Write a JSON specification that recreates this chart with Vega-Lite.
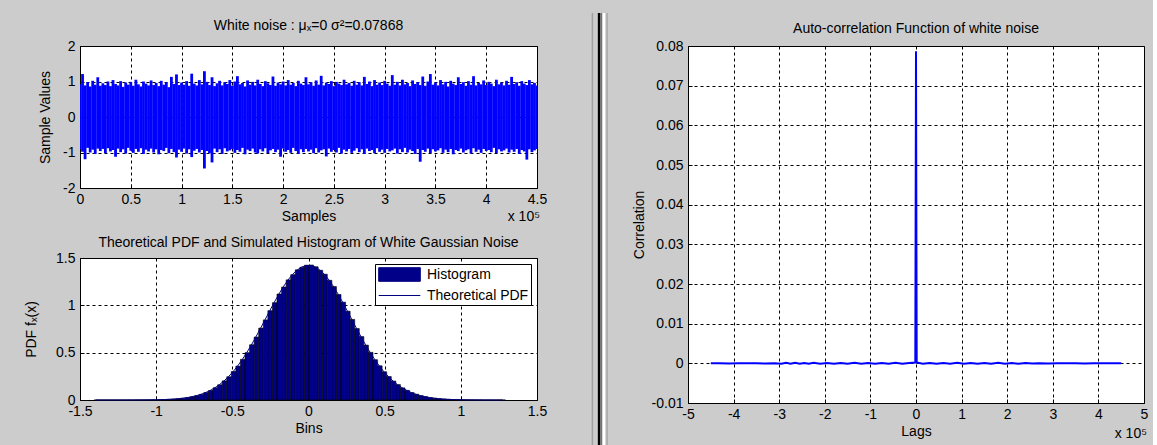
{
  "$schema": "https://vega.github.io/schema/vega-lite/v6.json",
  "background": "#CCCCCC",
  "padding": {"left": 24, "top": 11, "right": 4, "bottom": 0},
  "spacing": 19.5,
  "align": "none",
  "resolve": {"scale": {"color": "independent", "shape": "independent"}, "legend": {"color": "independent", "shape": "independent"}},
  "config": {
    "view": {"fill": "white", "stroke": "black", "strokeWidth": 1},
    "font": "Liberation Sans",
    "title": {"font": "Liberation Sans", "fontSize": 14, "fontWeight": "normal", "color": "#000", "anchor": "middle"},
    "axis": {"labelFont": "Liberation Sans", "labelFontSize": 14, "labelColor": "#000", "titleFont": "Liberation Sans", "titleFontSize": 14, "titleFontWeight": "normal", "titleColor": "#000", "domain": false, "grid": true, "gridColor": "#000", "gridDash": [3, 3], "gridOpacity": 1, "gridWidth": 1, "ticks": true, "tickColor": "#000", "tickSize": -4, "labelPadding": 8, "titlePadding": 3, "labelFlush": false, "labelOverlap": false},
    "axisY": {"labelPadding": 9},
    "text": {"font": "Liberation Sans", "fontSize": 14, "color": "#000"},
    "legend": {"labelFont": "Liberation Sans", "labelFontSize": 14, "labelColor": "#000"}
  },
  "datasets": {
    "noise": [
      {"s":0,"hi":0.92,"lo":-0.91},{"s":2500,"hi":1.21,"lo":-0.98},{"s":5000,"hi":0.89,"lo":-1.19},{"s":7500,"hi":0.98,"lo":-0.87},{"s":10000,"hi":0.86,"lo":-1.0},{"s":12500,"hi":1.02,"lo":-0.92},{"s":15000,"hi":0.91,"lo":-1.04},{"s":17500,"hi":1.12,"lo":-0.89},{"s":20000,"hi":0.88,"lo":-0.96},{"s":22500,"hi":0.95,"lo":-0.9},
      {"s":25000,"hi":0.9,"lo":-1.02},{"s":27500,"hi":1.0,"lo":-0.88},{"s":30000,"hi":0.87,"lo":-0.97},{"s":32500,"hi":1.04,"lo":-0.93},{"s":35000,"hi":0.93,"lo":-1.12},{"s":37500,"hi":0.89,"lo":-0.89},{"s":40000,"hi":1.01,"lo":-0.99},{"s":42500,"hi":0.85,"lo":-0.91},{"s":45000,"hi":0.97,"lo":-1.03},{"s":47500,"hi":0.91,"lo":-0.87},
      {"s":50000,"hi":0.99,"lo":-0.95},{"s":52500,"hi":0.88,"lo":-1.01},{"s":55000,"hi":1.05,"lo":-0.9},{"s":57500,"hi":0.92,"lo":-0.98},{"s":60000,"hi":0.86,"lo":-0.88},{"s":62500,"hi":1.0,"lo":-1.04},{"s":65000,"hi":0.94,"lo":-0.92},{"s":67500,"hi":0.89,"lo":-0.97},{"s":70000,"hi":1.03,"lo":-0.89},{"s":72500,"hi":0.9,"lo":-1.0},
      {"s":75000,"hi":0.96,"lo":-0.91},{"s":77500,"hi":0.87,"lo":-1.05},{"s":80000,"hi":1.02,"lo":-0.93},{"s":82500,"hi":0.91,"lo":-0.96},{"s":85000,"hi":0.98,"lo":-0.87},{"s":87500,"hi":0.84,"lo":-1.02},{"s":90000,"hi":1.13,"lo":-0.9},{"s":92500,"hi":0.93,"lo":-0.99},{"s":95000,"hi":1.2,"lo":-1.14},{"s":97500,"hi":0.9,"lo":-0.92},
      {"s":100000,"hi":0.97,"lo":-0.98},{"s":102500,"hi":0.91,"lo":-0.89},{"s":105000,"hi":1.01,"lo":-1.03},{"s":107500,"hi":0.88,"lo":-0.91},{"s":110000,"hi":1.22,"lo":-1.13},{"s":112500,"hi":0.94,"lo":-0.95},{"s":115000,"hi":0.89,"lo":-0.9},{"s":117500,"hi":1.04,"lo":-1.0},{"s":120000,"hi":0.92,"lo":-0.93},{"s":122500,"hi":1.29,"lo":-1.45},
      {"s":125000,"hi":0.99,"lo":-0.96},{"s":127500,"hi":0.9,"lo":-1.02},{"s":130000,"hi":1.12,"lo":-1.28},{"s":132500,"hi":0.87,"lo":-0.89},{"s":135000,"hi":0.95,"lo":-0.99},{"s":137500,"hi":1.02,"lo":-0.91},{"s":140000,"hi":0.89,"lo":-1.04},{"s":142500,"hi":0.98,"lo":-0.88},{"s":145000,"hi":0.93,"lo":-0.97},{"s":147500,"hi":1.04,"lo":-0.94},
      {"s":150000,"hi":0.88,"lo":-0.9},{"s":152500,"hi":1.0,"lo":-1.01},{"s":155000,"hi":1.15,"lo":-0.93},{"s":157500,"hi":0.92,"lo":-0.98},{"s":160000,"hi":0.96,"lo":-0.87},{"s":162500,"hi":0.86,"lo":-1.05},{"s":165000,"hi":1.03,"lo":-0.92},{"s":167500,"hi":0.91,"lo":-0.96},{"s":170000,"hi":0.99,"lo":-0.89},{"s":172500,"hi":0.89,"lo":-1.0},
      {"s":175000,"hi":1.05,"lo":-1.03},{"s":177500,"hi":0.93,"lo":-0.91},{"s":180000,"hi":0.87,"lo":-0.97},{"s":182500,"hi":1.01,"lo":-0.88},{"s":185000,"hi":0.95,"lo":-1.02},{"s":187500,"hi":0.9,"lo":-0.94},{"s":190000,"hi":1.14,"lo":-0.9},{"s":192500,"hi":0.88,"lo":-0.99},{"s":195000,"hi":0.97,"lo":-0.92},{"s":197500,"hi":0.92,"lo":-1.12},
      {"s":200000,"hi":1.0,"lo":-0.89},{"s":202500,"hi":0.89,"lo":-0.98},{"s":205000,"hi":1.04,"lo":-0.93},{"s":207500,"hi":0.91,"lo":-1.01},{"s":210000,"hi":0.96,"lo":-0.87},{"s":212500,"hi":0.87,"lo":-0.96},{"s":215000,"hi":1.02,"lo":-1.04},{"s":217500,"hi":0.94,"lo":-0.91},{"s":220000,"hi":0.9,"lo":-0.99},{"s":222500,"hi":1.12,"lo":-0.9},
      {"s":225000,"hi":0.92,"lo":-0.97},{"s":227500,"hi":0.98,"lo":-0.92},{"s":230000,"hi":0.88,"lo":-1.02},{"s":232500,"hi":1.03,"lo":-0.88},{"s":235000,"hi":0.91,"lo":-1.0},{"s":237500,"hi":1.16,"lo":-0.94},{"s":240000,"hi":0.89,"lo":-0.91},{"s":242500,"hi":0.97,"lo":-1.11},{"s":245000,"hi":0.93,"lo":-0.89},{"s":247500,"hi":1.01,"lo":-0.98},
      {"s":250000,"hi":0.87,"lo":-0.93},{"s":252500,"hi":0.99,"lo":-1.0},{"s":255000,"hi":0.94,"lo":-0.87},{"s":257500,"hi":0.9,"lo":-1.03},{"s":260000,"hi":1.05,"lo":-0.92},{"s":262500,"hi":0.92,"lo":-0.97},{"s":265000,"hi":0.96,"lo":-0.9},{"s":267500,"hi":0.88,"lo":-1.01},{"s":270000,"hi":1.02,"lo":-0.95},{"s":272500,"hi":0.91,"lo":-0.88},
      {"s":275000,"hi":0.98,"lo":-0.99},{"s":277500,"hi":0.89,"lo":-0.91},{"s":280000,"hi":1.13,"lo":-1.04},{"s":282500,"hi":0.93,"lo":-0.89},{"s":285000,"hi":1.0,"lo":-0.96},{"s":287500,"hi":0.87,"lo":-0.93},{"s":290000,"hi":1.04,"lo":-1.02},{"s":292500,"hi":0.91,"lo":-0.88},{"s":295000,"hi":0.97,"lo":-0.98},{"s":297500,"hi":0.9,"lo":-0.92},
      {"s":300000,"hi":1.02,"lo":-1.01},{"s":302500,"hi":0.94,"lo":-0.9},{"s":305000,"hi":0.88,"lo":-0.97},{"s":307500,"hi":1.18,"lo":-0.94},{"s":310000,"hi":0.91,"lo":-0.89},{"s":312500,"hi":0.99,"lo":-1.03},{"s":315000,"hi":0.89,"lo":-0.91},{"s":317500,"hi":1.05,"lo":-0.99},{"s":320000,"hi":0.92,"lo":-0.87},{"s":322500,"hi":0.96,"lo":-1.0},
      {"s":325000,"hi":0.87,"lo":-0.92},{"s":327500,"hi":1.03,"lo":-0.96},{"s":330000,"hi":0.93,"lo":-1.04},{"s":332500,"hi":0.98,"lo":-0.9},{"s":335000,"hi":0.9,"lo":-1.26},{"s":337500,"hi":1.14,"lo":-0.93},{"s":340000,"hi":0.88,"lo":-0.98},{"s":342500,"hi":1.0,"lo":-0.89},{"s":345000,"hi":1.21,"lo":-1.02},{"s":347500,"hi":0.91,"lo":-0.91},
      {"s":350000,"hi":0.97,"lo":-0.97},{"s":352500,"hi":0.89,"lo":-0.94},{"s":355000,"hi":1.04,"lo":-0.88},{"s":357500,"hi":0.92,"lo":-1.01},{"s":360000,"hi":0.99,"lo":-0.92},{"s":362500,"hi":0.86,"lo":-0.99},{"s":365000,"hi":1.02,"lo":-0.9},{"s":367500,"hi":0.94,"lo":-1.05},{"s":370000,"hi":0.9,"lo":-0.93},{"s":372500,"hi":1.12,"lo":-0.96},
      {"s":375000,"hi":0.93,"lo":-0.89},{"s":377500,"hi":0.98,"lo":-1.0},{"s":380000,"hi":0.88,"lo":-0.94},{"s":382500,"hi":1.01,"lo":-0.91},{"s":385000,"hi":0.91,"lo":-1.03},{"s":387500,"hi":1.15,"lo":-0.88},{"s":390000,"hi":0.89,"lo":-0.98},{"s":392500,"hi":0.96,"lo":-0.92},{"s":395000,"hi":0.92,"lo":-1.01},{"s":397500,"hi":1.03,"lo":-0.9},
      {"s":400000,"hi":0.9,"lo":-0.96},{"s":402500,"hi":0.99,"lo":-0.93},{"s":405000,"hi":0.94,"lo":-0.99},{"s":407500,"hi":0.87,"lo":-0.87},{"s":410000,"hi":1.05,"lo":-1.02},{"s":412500,"hi":0.92,"lo":-0.91},{"s":415000,"hi":0.97,"lo":-0.97},{"s":417500,"hi":0.89,"lo":-0.94},{"s":420000,"hi":1.02,"lo":-0.89},{"s":422500,"hi":0.91,"lo":-1.0},
      {"s":425000,"hi":1.13,"lo":-0.92},{"s":427500,"hi":0.93,"lo":-0.98},{"s":430000,"hi":0.98,"lo":-0.9},{"s":432500,"hi":0.88,"lo":-1.04},{"s":435000,"hi":1.01,"lo":-0.93},{"s":437500,"hi":0.94,"lo":-0.97},{"s":440000,"hi":0.9,"lo":-1.2},{"s":442500,"hi":1.04,"lo":-0.91},{"s":445000,"hi":0.92,"lo":-0.99},{"s":447500,"hi":0.96,"lo":-0.94},
      {"s":450000,"hi":0.89,"lo":-0.9}
    ],
    "hist": [
      {"b0":-1.41,"b1":-1.38,"c":-1.395,"h":0.0001,"p":0.0},{"b0":-1.38,"b1":-1.35,"c":-1.365,"h":0.0,"p":0.0},{"b0":-1.35,"b1":-1.32,"c":-1.335,"h":0.0,"p":0.0},{"b0":-1.32,"b1":-1.29,"c":-1.305,"h":0.0001,"p":0.0},{"b0":-1.29,"b1":-1.26,"c":-1.275,"h":0.0,"p":0.0},
      {"b0":-1.26,"b1":-1.23,"c":-1.245,"h":0.0001,"p":0.0001},{"b0":-1.23,"b1":-1.2,"c":-1.215,"h":0.0002,"p":0.0001},{"b0":-1.2,"b1":-1.17,"c":-1.185,"h":0.0002,"p":0.0002},{"b0":-1.17,"b1":-1.14,"c":-1.155,"h":0.0003,"p":0.0003},{"b0":-1.14,"b1":-1.11,"c":-1.125,"h":0.0005,"p":0.0005},
      {"b0":-1.11,"b1":-1.08,"c":-1.095,"h":0.0008,"p":0.0007},{"b0":-1.08,"b1":-1.05,"c":-1.065,"h":0.001,"p":0.0011},{"b0":-1.05,"b1":-1.02,"c":-1.035,"h":0.0017,"p":0.0016},{"b0":-1.02,"b1":-0.99,"c":-1.005,"h":0.0022,"p":0.0023},{"b0":-0.99,"b1":-0.96,"c":-0.975,"h":0.0035,"p":0.0034},
      {"b0":-0.96,"b1":-0.93,"c":-0.945,"h":0.0047,"p":0.0049},{"b0":-0.93,"b1":-0.9,"c":-0.915,"h":0.0072,"p":0.007},{"b0":-0.9,"b1":-0.87,"c":-0.885,"h":0.0096,"p":0.0098},{"b0":-0.87,"b1":-0.84,"c":-0.855,"h":0.014,"p":0.0137},{"b0":-0.84,"b1":-0.81,"c":-0.825,"h":0.0185,"p":0.0188},
      {"b0":-0.81,"b1":-0.78,"c":-0.795,"h":0.026,"p":0.0256},{"b0":-0.78,"b1":-0.75,"c":-0.765,"h":0.0341,"p":0.0345},{"b0":-0.75,"b1":-0.72,"c":-0.735,"h":0.0465,"p":0.0459},{"b0":-0.72,"b1":-0.69,"c":-0.705,"h":0.0598,"p":0.0604},{"b0":-0.69,"b1":-0.66,"c":-0.675,"h":0.0793,"p":0.0786},
      {"b0":-0.66,"b1":-0.63,"c":-0.645,"h":0.1004,"p":0.1011},{"b0":-0.63,"b1":-0.6,"c":-0.615,"h":0.1295,"p":0.1286},{"b0":-0.6,"b1":-0.57,"c":-0.585,"h":0.1608,"p":0.1616},{"b0":-0.57,"b1":-0.54,"c":-0.555,"h":0.2021,"p":0.2008},{"b0":-0.54,"b1":-0.51,"c":-0.525,"h":0.2455,"p":0.2468},
      {"b0":-0.51,"b1":-0.48,"c":-0.495,"h":0.3012,"p":0.2997},{"b0":-0.48,"b1":-0.45,"c":-0.465,"h":0.3583,"p":0.3599},{"b0":-0.45,"b1":-0.42,"c":-0.435,"h":0.429,"p":0.4273},{"b0":-0.42,"b1":-0.39,"c":-0.405,"h":0.4998,"p":0.5015},{"b0":-0.39,"b1":-0.36,"c":-0.375,"h":0.5836,"p":0.5819},
      {"b0":-0.36,"b1":-0.33,"c":-0.345,"h":0.6652,"p":0.6675},{"b0":-0.33,"b1":-0.3,"c":-0.315,"h":0.7594,"p":0.757},{"b0":-0.3,"b1":-0.27,"c":-0.285,"h":0.8461,"p":0.8488},{"b0":-0.27,"b1":-0.24,"c":-0.255,"h":0.9437,"p":0.9408},{"b0":-0.24,"b1":-0.21,"c":-0.225,"h":1.0283,"p":1.031},
      {"b0":-0.21,"b1":-0.18,"c":-0.195,"h":1.1196,"p":1.1169},{"b0":-0.18,"b1":-0.15,"c":-0.165,"h":1.1938,"p":1.1963},{"b0":-0.15,"b1":-0.12,"c":-0.135,"h":1.269,"p":1.2667},{"b0":-0.12,"b1":-0.09,"c":-0.105,"h":1.3241,"p":1.326},{"b0":-0.09,"b1":-0.06,"c":-0.075,"h":1.375,"p":1.3723},
      {"b0":-0.06,"b1":-0.03,"c":-0.045,"h":1.4018,"p":1.404},{"b0":-0.03,"b1":0.0,"c":-0.015,"h":1.4236,"p":1.4202},{"b0":0.0,"b1":0.03,"c":0.015,"h":1.4251,"p":1.4202},{"b0":0.03,"b1":0.06,"c":0.045,"h":1.4067,"p":1.404},{"b0":0.06,"b1":0.09,"c":0.075,"h":1.3702,"p":1.3723},
      {"b0":0.09,"b1":0.12,"c":0.105,"h":1.3288,"p":1.326},{"b0":0.12,"b1":0.15,"c":0.135,"h":1.2643,"p":1.2667},{"b0":0.15,"b1":0.18,"c":0.165,"h":1.1985,"p":1.1963},{"b0":0.18,"b1":0.21,"c":0.195,"h":1.1142,"p":1.1169},{"b0":0.21,"b1":0.24,"c":0.225,"h":1.0336,"p":1.031},
      {"b0":0.24,"b1":0.27,"c":0.255,"h":0.9381,"p":0.9408},{"b0":0.27,"b1":0.3,"c":0.285,"h":0.8512,"p":0.8488},{"b0":0.3,"b1":0.33,"c":0.315,"h":0.7549,"p":0.757},{"b0":0.33,"b1":0.36,"c":0.345,"h":0.6698,"p":0.6675},{"b0":0.36,"b1":0.39,"c":0.375,"h":0.5797,"p":0.5819},
      {"b0":0.39,"b1":0.42,"c":0.405,"h":0.5033,"p":0.5015},{"b0":0.42,"b1":0.45,"c":0.435,"h":0.4256,"p":0.4273},{"b0":0.45,"b1":0.48,"c":0.465,"h":0.3614,"p":0.3599},{"b0":0.48,"b1":0.51,"c":0.495,"h":0.2982,"p":0.2997},{"b0":0.51,"b1":0.54,"c":0.525,"h":0.2479,"p":0.2468},
      {"b0":0.54,"b1":0.57,"c":0.555,"h":0.1996,"p":0.2008},{"b0":0.57,"b1":0.6,"c":0.585,"h":0.1627,"p":0.1616},{"b0":0.6,"b1":0.63,"c":0.615,"h":0.1279,"p":0.1286},{"b0":0.63,"b1":0.66,"c":0.645,"h":0.1018,"p":0.1011},{"b0":0.66,"b1":0.69,"c":0.675,"h":0.078,"p":0.0786},
      {"b0":0.69,"b1":0.72,"c":0.705,"h":0.0609,"p":0.0604},{"b0":0.72,"b1":0.75,"c":0.735,"h":0.0455,"p":0.0459},{"b0":0.75,"b1":0.78,"c":0.765,"h":0.0349,"p":0.0345},{"b0":0.78,"b1":0.81,"c":0.795,"h":0.0253,"p":0.0256},{"b0":0.81,"b1":0.84,"c":0.825,"h":0.0191,"p":0.0188},
      {"b0":0.84,"b1":0.87,"c":0.855,"h":0.0135,"p":0.0137},{"b0":0.87,"b1":0.9,"c":0.885,"h":0.01,"p":0.0098},{"b0":0.9,"b1":0.93,"c":0.915,"h":0.0068,"p":0.007},{"b0":0.93,"b1":0.96,"c":0.945,"h":0.005,"p":0.0049},{"b0":0.96,"b1":0.99,"c":0.975,"h":0.0033,"p":0.0034},
      {"b0":0.99,"b1":1.02,"c":1.005,"h":0.0024,"p":0.0023},{"b0":1.02,"b1":1.05,"c":1.035,"h":0.0015,"p":0.0016},{"b0":1.05,"b1":1.08,"c":1.065,"h":0.0011,"p":0.0011},{"b0":1.08,"b1":1.11,"c":1.095,"h":0.0007,"p":0.0007},{"b0":1.11,"b1":1.14,"c":1.125,"h":0.0004,"p":0.0005},
      {"b0":1.14,"b1":1.17,"c":1.155,"h":0.0003,"p":0.0003},{"b0":1.17,"b1":1.2,"c":1.185,"h":0.0002,"p":0.0002},{"b0":1.2,"b1":1.23,"c":1.215,"h":0.0001,"p":0.0001},{"b0":1.23,"b1":1.26,"c":1.245,"h":0.0,"p":0.0001},{"b0":1.26,"b1":1.29,"c":1.275,"h":0.0001,"p":0.0}
    ],
    "acf": [
      {"lag":-449999,"r":0.0},{"lag":-430000,"r":0.00005},{"lag":-410000,"r":-0.00005},{"lag":-390000,"r":0.00005},{"lag":-370000,"r":0.0},{"lag":-350000,"r":0.00005},{"lag":-330000,"r":-0.00005},{"lag":-310000,"r":0.00005},
      {"lag":-295000,"r":-0.0001},{"lag":-285000,"r":0.00012},{"lag":-275000,"r":-0.0001},{"lag":-265000,"r":0.00012},{"lag":-255000,"r":-0.00012},{"lag":-245000,"r":0.0001},{"lag":-235000,"r":-0.0001},{"lag":-225000,"r":0.00012},
      {"lag":-210000,"r":-0.0001},{"lag":-195000,"r":0.0001},{"lag":-180000,"r":-0.00012},{"lag":-165000,"r":0.0001},{"lag":-150000,"r":-0.0001},{"lag":-135000,"r":0.00012},{"lag":-120000,"r":-0.0001},{"lag":-105000,"r":0.0001},
      {"lag":-90000,"r":-0.00012},{"lag":-75000,"r":0.0001},{"lag":-60000,"r":-0.0001},{"lag":-45000,"r":0.00012},{"lag":-30000,"r":-0.0001},{"lag":-15000,"r":0.0001},{"lag":-1500,"r":0.0002},{"lag":0,"r":0.0787},
      {"lag":1500,"r":0.0002},{"lag":15000,"r":-0.0001},{"lag":30000,"r":0.0001},{"lag":45000,"r":-0.00012},{"lag":60000,"r":0.0001},{"lag":75000,"r":-0.0001},{"lag":90000,"r":0.00012},{"lag":105000,"r":-0.0001},
      {"lag":120000,"r":0.0001},{"lag":135000,"r":-0.00012},{"lag":150000,"r":0.0001},{"lag":165000,"r":-0.0001},{"lag":180000,"r":0.00012},{"lag":195000,"r":-0.0001},{"lag":210000,"r":0.0001},{"lag":225000,"r":-0.00012},
      {"lag":240000,"r":0.0001},{"lag":255000,"r":-0.00005},{"lag":270000,"r":0.00005},{"lag":290000,"r":-0.00005},{"lag":310000,"r":0.00005},{"lag":330000,"r":0.0},{"lag":350000,"r":0.00005},{"lag":370000,"r":-0.00005},
      {"lag":390000,"r":0.00005},{"lag":410000,"r":0.0},{"lag":430000,"r":0.00005},{"lag":449999,"r":0.0}
    ]
  },
  "hconcat": [
    {
      "spacing": 10,
      "resolve": {"scale": {"color": "independent", "shape": "independent"}, "legend": {"color": "independent", "shape": "independent"}},
      "vconcat": [
        {
          "width": 457,
          "height": 142,
          "title": {"text": "White noise : μₓ=0 σ²=0.07868", "offset": 6},
          "layer": [
            {
              "data": {"name": "noise"},
              "mark": {"type": "rule", "color": "#0000FF", "strokeWidth": 2.8, "clip": true},
              "encoding": {
                "x": {"field": "s", "type": "quantitative", "scale": {"domain": [0, 450000], "nice": false}, "axis": {"title": "Samples", "values": [0, 50000, 100000, 150000, 200000, 250000, 300000, 350000, 400000, 450000], "labelExpr": "'' + datum.value / 100000", "labelOverlap": false}},
                "y": {"field": "lo", "type": "quantitative", "scale": {"domain": [-2, 2], "nice": false}, "axis": {"title": "Sample Values", "values": [-2, -1, 0, 1, 2], "labelExpr": "'' + datum.value", "titlePadding": 10, "labelOverlap": false}},
                "y2": {"field": "hi"}
              }
            },
            {
              "data": {"values": [{"label": "x 10⁵"}]},
              "mark": {"type": "text", "align": "right", "baseline": "top", "dy": 22, "dx": 3},
              "encoding": {
                "x": {"datum": 450000, "type": "quantitative", "axis": {"title": "Samples", "values": [0, 50000, 100000, 150000, 200000, 250000, 300000, 350000, 400000, 450000], "labelExpr": "'' + datum.value / 100000", "labelOverlap": false}},
                "y": {"datum": -2, "type": "quantitative", "axis": {"title": "Sample Values", "values": [-2, -1, 0, 1, 2], "labelExpr": "'' + datum.value", "titlePadding": 10, "labelOverlap": false}},
                "text": {"field": "label"}
              }
            }
          ]
        },
        {
          "width": 457,
          "height": 142,
          "title": {"text": "Theoretical PDF and Simulated Histogram of White Gaussian Noise", "offset": 1},
          "layer": [
            {
              "data": {"name": "hist"},
              "mark": {"type": "bar", "color": "#000088", "stroke": "#000000", "strokeWidth": 0.6, "binSpacing": 0},
              "encoding": {
                "x": {"field": "b0", "type": "quantitative", "bin": {"binned": true, "step": 0.03}, "scale": {"domain": [-1.5, 1.5], "nice": false, "zero": false}, "axis": {"title": "Bins", "values": [-1.5, -1, -0.5, 0, 0.5, 1, 1.5], "labelExpr": "'' + datum.value", "labelOverlap": false}},
                "x2": {"field": "b1"},
                "y": {"field": "h", "type": "quantitative", "scale": {"domain": [0, 1.5], "nice": false}, "axis": {"title": "PDF fₓ(x)", "values": [0, 0.5, 1, 1.5], "labelExpr": "'' + datum.value", "titlePadding": 17, "labelOverlap": false}}
              }
            },
            {
              "data": {"name": "hist"},
              "mark": {"type": "line", "color": "#000080", "strokeWidth": 1},
              "encoding": {
                "x": {"field": "c", "type": "quantitative"},
                "y": {"field": "p", "type": "quantitative"}
              }
            },
            {
              "data": {"values": [{"series": "Histogram"}, {"series": "Theoretical PDF"}]},
              "mark": {"type": "point", "filled": true, "opacity": 1, "clip": true, "stroke": "#000080", "strokeWidth": 1},
              "encoding": {
                "x": {"datum": -5, "type": "quantitative"},
                "color": {
                  "field": "series",
                  "type": "nominal",
                  "scale": {"domain": ["Histogram", "Theoretical PDF"], "range": ["#000088", "#000080"]},
                  "legend": {
                    "title": null,
                    "orient": "top-right",
                    "offset": 6,
                    "fillColor": "white",
                    "strokeColor": "black",
                    "padding": 2,
                    "rowPadding": 3,
                    "symbolSize": 256,
                    "symbolOffset": 14,
                    "labelOffset": 19,
                    "symbolOpacity": 1,
                    "symbolStrokeColor": "#000080",
                    "symbolStrokeWidth": 1
                  }
                },
                "shape": {
                  "field": "series",
                  "type": "nominal",
                  "scale": {"domain": ["Histogram", "Theoretical PDF"], "range": ["M-2.6,-0.85H2.6V0.85H-2.6Z", "M-2.6,0H2.6"]}
                }
              }
            }
          ]
        }
      ]
    },
    {
      "width": 44,
      "height": 400,
      "view": {"fill": null, "stroke": null},
      "data": {"values": [{"part": "splitter"}]},
      "encoding": {
        "y": {"datum": 1.0825, "type": "quantitative", "scale": {"domain": [0, 1]}, "axis": null},
        "y2": {"datum": -0.1}
      },
      "layer": [
        {"mark": {"type": "rule", "color": "#A0A0A0", "strokeWidth": 1.5}, "encoding": {"x": {"datum": 25.5, "type": "quantitative", "scale": {"domain": [0, 44]}, "axis": null}}},
        {"mark": {"type": "rule", "color": "#000000", "strokeWidth": 2.5}, "encoding": {"x": {"datum": 32.3, "type": "quantitative"}}},
        {"mark": {"type": "rule", "color": "#707070", "strokeWidth": 1.5}, "encoding": {"x": {"datum": 34.5, "type": "quantitative"}}},
        {"mark": {"type": "rule", "color": "#FFFFFF", "strokeWidth": 2.5}, "encoding": {"x": {"datum": 37.3, "type": "quantitative"}}},
        {"mark": {"type": "rule", "color": "#A8A8A8", "strokeWidth": 1.5}, "encoding": {"x": {"datum": 40.5, "type": "quantitative"}}}
      ]
    },
    {
      "width": 456,
      "height": 357,
      "title": {"text": "Auto-correlation Function of white noise", "offset": 3},
      "layer": [
        {
          "data": {"name": "acf"},
          "mark": {"type": "line", "color": "#0000FF", "strokeWidth": 2, "clip": true},
          "encoding": {
            "x": {"field": "lag", "type": "quantitative", "scale": {"domain": [-500000, 500000], "nice": false}, "axis": {"title": "Lags", "values": [-500000, -400000, -300000, -200000, -100000, 0, 100000, 200000, 300000, 400000, 500000], "labelExpr": "'' + datum.value / 100000", "labelOverlap": false}},
            "y": {"field": "r", "type": "quantitative", "scale": {"domain": [-0.01, 0.08], "nice": false, "zero": false}, "axis": {"title": "Correlation", "values": [-0.01, 0, 0.01, 0.02, 0.03, 0.04, 0.05, 0.06, 0.07, 0.08], "labelExpr": "'' + datum.value", "titlePadding": 5, "labelOverlap": false}}
          }
        },
        {
          "data": {"values": [{"label": "x 10⁵"}]},
          "mark": {"type": "text", "align": "right", "baseline": "top", "dy": 24, "dx": 3},
          "encoding": {
            "x": {"datum": 500000, "type": "quantitative", "axis": {"title": "Lags", "values": [-500000, -400000, -300000, -200000, -100000, 0, 100000, 200000, 300000, 400000, 500000], "labelExpr": "'' + datum.value / 100000", "labelOverlap": false}},
            "y": {"datum": -0.01, "type": "quantitative", "axis": {"title": "Correlation", "values": [-0.01, 0, 0.01, 0.02, 0.03, 0.04, 0.05, 0.06, 0.07, 0.08], "labelExpr": "'' + datum.value", "titlePadding": 5, "labelOverlap": false}},
            "text": {"field": "label"}
          }
        }
      ]
    }
  ]
}
